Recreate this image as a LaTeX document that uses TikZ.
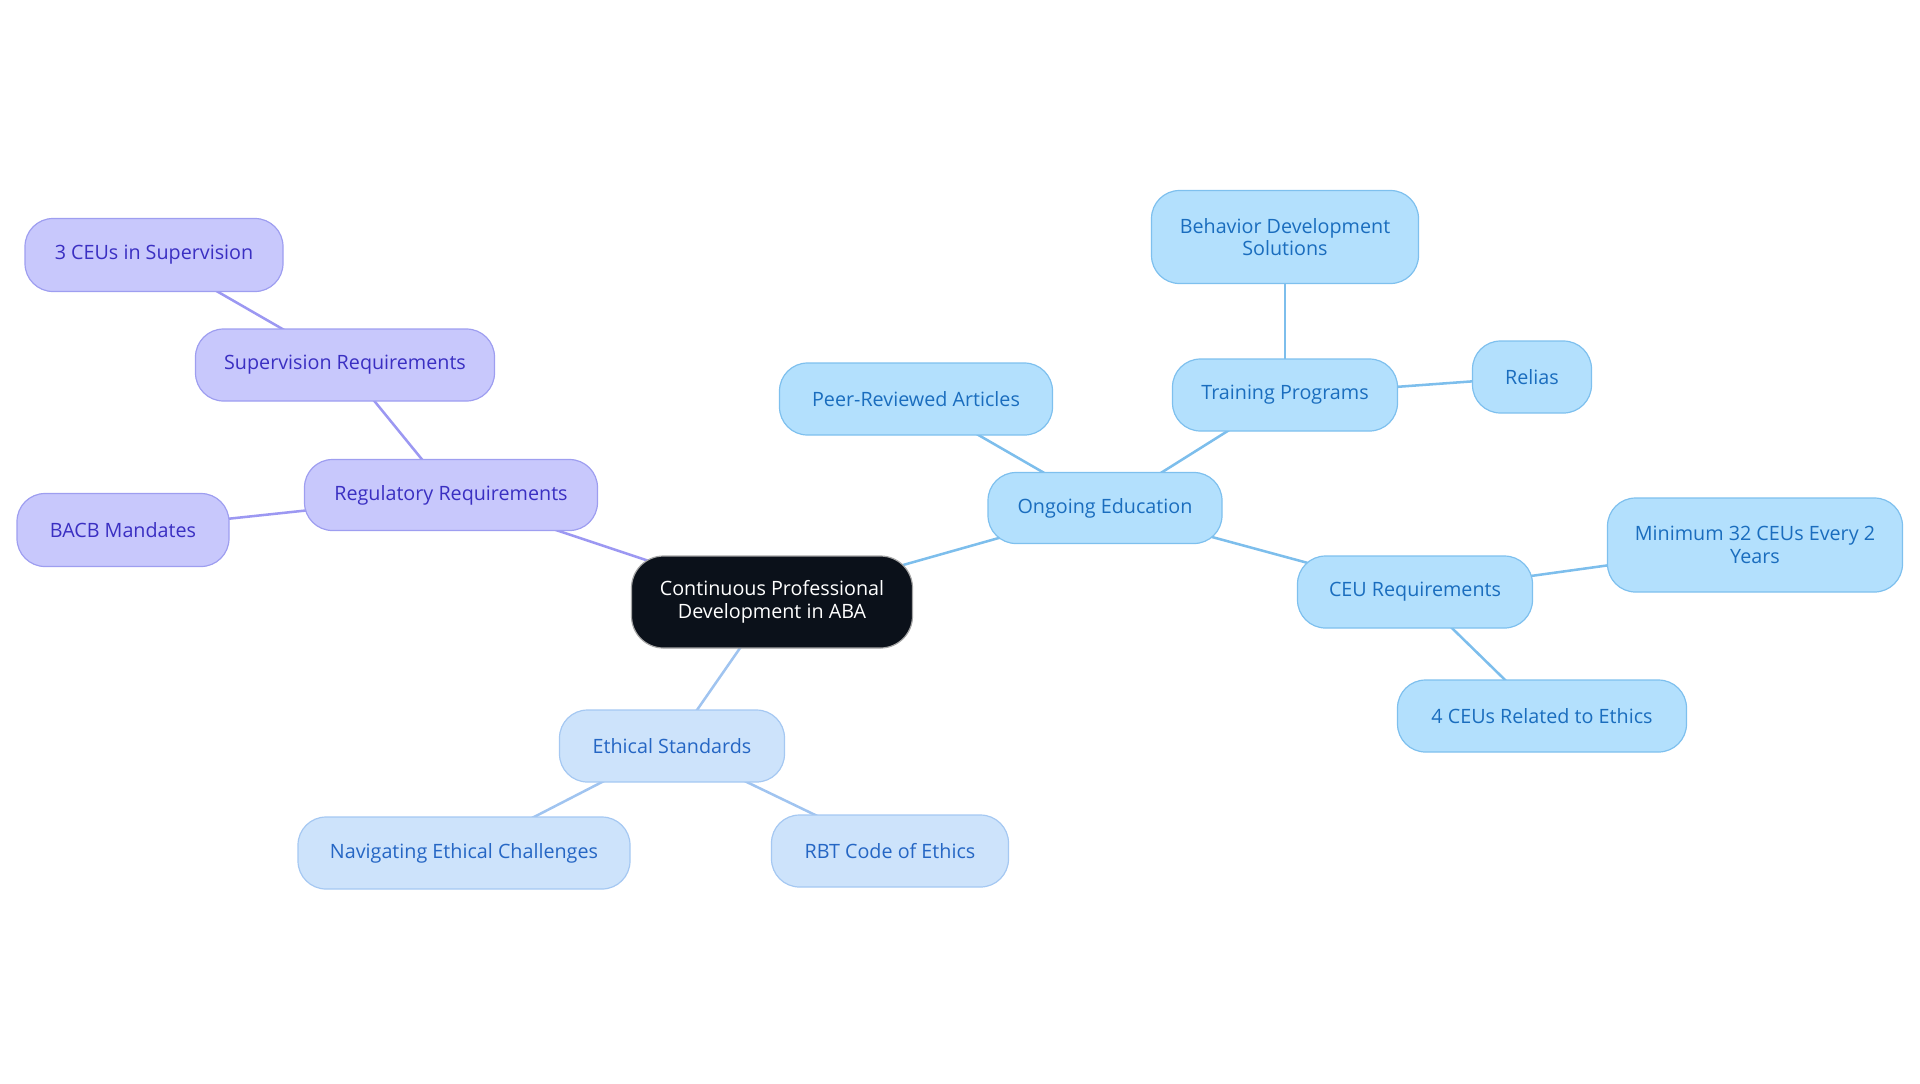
\documentclass[tikz,border=0pt]{standalone}
\usepackage{fontspec}
\setmainfont{Open Sans}
\usetikzlibrary{backgrounds}
\definecolor{pfill}{HTML}{C8C8FC}
\definecolor{pdraw}{HTML}{9E9EF0}
\definecolor{ptext}{HTML}{3A2FC2}
\definecolor{pedge}{HTML}{9C98F2}
\definecolor{bfill}{HTML}{B3E0FD}
\definecolor{bdraw}{HTML}{7EC0EE}
\definecolor{btext}{HTML}{1A6DBE}
\definecolor{bedge}{HTML}{7DBEEC}
\definecolor{lfill}{HTML}{CDE3FB}
\definecolor{ldraw}{HTML}{A5C8F2}
\definecolor{ltext}{HTML}{2566C4}
\definecolor{ledge}{HTML}{A0C4F0}
\definecolor{cfill}{HTML}{0B111A}
\begin{document}
\begin{tikzpicture}[x=0.75pt,y=-0.75pt,
  box/.style={rounded corners=21pt, line width=0.9pt, inner sep=0pt, align=center,
    font=\fontsize{14.8}{16.8}\selectfont},
  sz/.style 2 args={minimum width={#1*0.75pt}, minimum height={#2*0.75pt}},
  pbox/.style={box, fill=pfill, draw=pdraw, text=ptext},
  bbox/.style={box, fill=bfill, draw=bdraw, text=btext},
  lbox/.style={box, fill=lfill, draw=ldraw, text=ltext},
  cbox/.style={box, fill=cfill, draw=gray!70, text=white, rounded corners=24pt},
  pline/.style={draw=pedge, line width=1.9pt},
  bline/.style={draw=bedge, line width=1.9pt},
  lline/.style={draw=ledge, line width=1.9pt}]
\useasboundingbox (0,0) rectangle (1920,1083);

\node[cbox, sz={281}{92}] (c) at (772,602) {Continuous Professional\\Development in ABA};

\node[pbox, sz={293}{71}] (reg) at (451,495) {Regulatory Requirements};
\node[pbox, sz={299}{72}] (sup) at (345,365) {Supervision Requirements};
\node[pbox, sz={258}{73}] (ceus) at (154,255) {3 CEUs in Supervision};
\node[pbox, sz={212}{73}] (bacb) at (123,530) {BACB Mandates};

\node[bbox, sz={234}{71}] (ong) at (1105,508) {Ongoing Education};
\node[bbox, sz={273}{72}] (peer) at (916,399) {Peer-Reviewed Articles};
\node[bbox, sz={225}{72}] (train) at (1285,395) {Training Programs};
\node[bbox, sz={267}{93}] (bds) at (1285,237) {Behavior Development\\Solutions};
\node[bbox, sz={119}{72}] (relias) at (1532,377) {Relias};
\node[bbox, sz={235}{72}] (ceu) at (1415,592) {CEU Requirements};
\node[bbox, sz={295}{94}] (min) at (1755,545) {Minimum 32 CEUs Every 2\\Years};
\node[bbox, sz={289}{72}] (four) at (1542,716) {4 CEUs Related to Ethics};

\node[lbox, sz={225}{72}] (eth) at (672,746) {Ethical Standards};
\node[lbox, sz={332}{72}] (nav) at (464,853) {Navigating Ethical Challenges};
\node[lbox, sz={237}{72}] (rbt) at (890,851) {RBT Code of Ethics};

\begin{scope}[on background layer]
\draw[pline] (c.center) -- (reg.center);
\draw[pline] (reg.center) -- (sup.center);
\draw[pline] (sup.center) -- (ceus.center);
\draw[pline] (reg.center) -- (bacb.center);
\draw[bline] (c.center) -- (ong.center);
\draw[bline] (ong.center) -- (peer.center);
\draw[bline] (ong.center) -- (train.center);
\draw[bline] (train.center) -- (bds.center);
\draw[bline] (train.center) -- (relias.center);
\draw[bline] (ong.center) -- (ceu.center);
\draw[bline] (ceu.center) -- (min.center);
\draw[bline] (ceu.center) -- (four.center);
\draw[lline] (c.center) -- (eth.center);
\draw[lline] (eth.center) -- (nav.center);
\draw[lline] (eth.center) -- (rbt.center);
\end{scope}
\end{tikzpicture}
\end{document}
